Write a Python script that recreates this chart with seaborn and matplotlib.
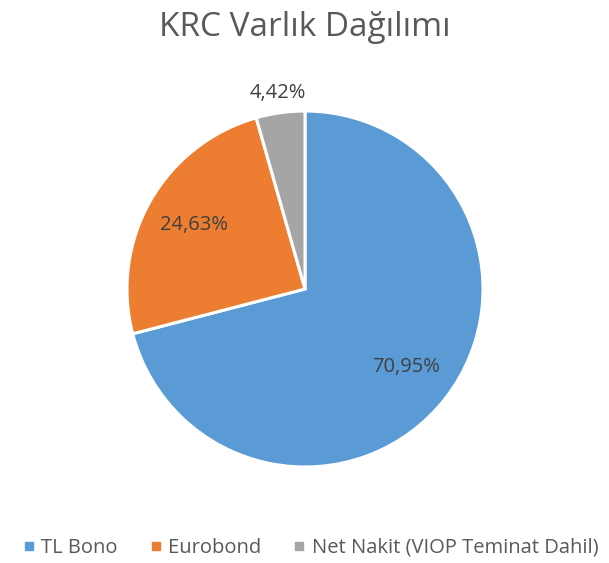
import numpy as np
import matplotlib
matplotlib.use('Agg')
import matplotlib.pyplot as plt
import seaborn as sns
from matplotlib.lines import Line2D

# data
labels = ['TL Bono', 'Eurobond', 'Net Nakit (VIOP Teminat Dahil)']
values = [70.95, 24.63, 4.42]
pct_text = ['70,95%', '24,63%', '4,42%']
colors = ['#5B9BD5', '#ED7D31', '#A5A5A5']

sns.set_theme(style='white')
plt.rcParams['font.family'] = ['Open Sans', 'DejaVu Sans']

fig = plt.figure(figsize=(6.09, 5.63), dpi=100)
fig.patch.set_facecolor('white')

# pie axes: centre ~ (305, 289) px, radius ~ 178 px
ax = fig.add_axes([(305 - 178) / 609, (563 - 289 - 178) / 563, 356 / 609, 356 / 563])
wedges, _ = ax.pie(values, colors=colors, startangle=90, counterclock=False,
                   wedgeprops=dict(edgecolor='white', linewidth=2.2))
ax.set_xlim(-1, 1)
ax.set_ylim(-1, 1)
ax.set_aspect('equal')
ax.axis('off')

# percent labels
dists = [0.72, 0.72, 1.11]
for w, t, d in zip(wedges, pct_text, dists):
    ang = np.deg2rad((w.theta1 + w.theta2) / 2)
    ax.text(d * np.cos(ang), d * np.sin(ang), t, ha='center', va='center',
            fontsize=14.5, color='#404040')

fig.text(0.5, 1 - 28 / 563, 'KRC Varlık Dağılımı', ha='center', va='center',
         fontsize=24, color='#595959')

handles = [Line2D([0], [0], marker='s', linestyle='', markersize=6,
                  markerfacecolor=c, markeredgecolor=c) for c in colors]
fig.legend(handles, labels, loc='center', bbox_to_anchor=(0.505, 1 - 548 / 563),
           ncol=3, frameon=False, fontsize=14.5, handletextpad=0.0,
           handlelength=1.2, columnspacing=1.3, labelcolor='#595959')

fig.savefig('out.png', dpi=100, facecolor='white')
